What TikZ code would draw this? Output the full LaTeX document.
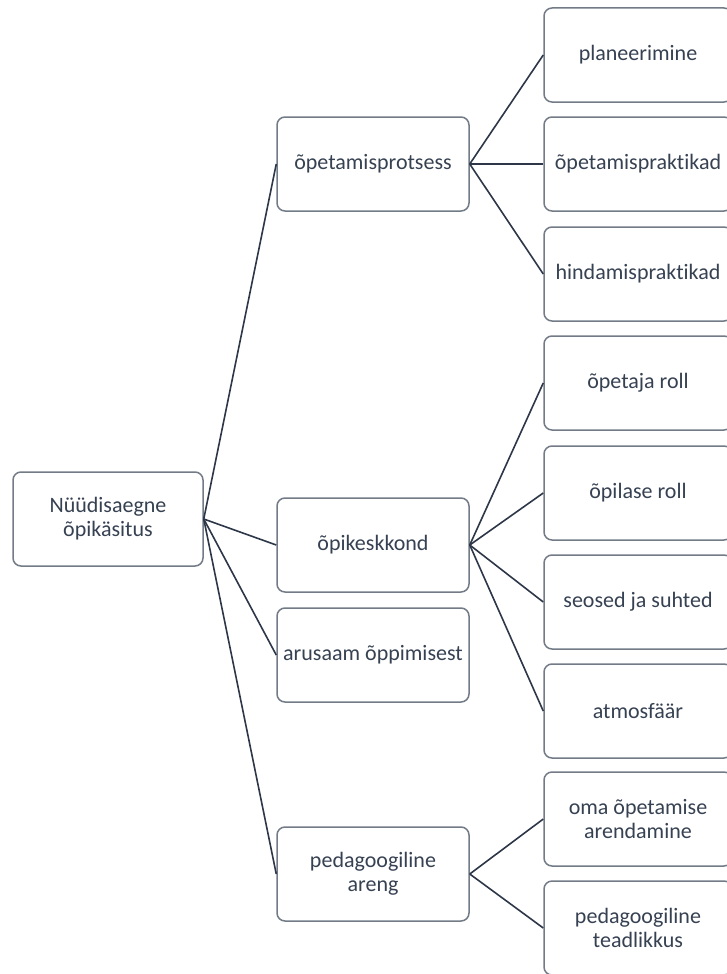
\documentclass[tikz,border=0pt]{standalone}
\usepackage{fontspec}
\setmainfont[Ligatures=NoCommon]{Carlito}
\definecolor{boxc}{HTML}{737B87}
\definecolor{linec}{HTML}{2D3748}
\definecolor{txtc}{HTML}{364152}
\begin{document}
\begin{tikzpicture}[x=1pt,y=-1pt,
  box/.style={draw=boxc, line width=1.5pt, rounded corners=8pt, fill=white,
    minimum height=94pt, align=center, text=txtc, inner sep=0pt,
    font=\fontsize{22}{24}\selectfont},
  rootbox/.style={box, minimum width=190pt},
  midbox/.style={box, minimum width=192pt},
  leafbox/.style={box, minimum width=188pt},
  conn/.style={draw=linec, line width=1.6pt}]
\useasboundingbox (0,0) rectangle (726,974);
\node[rootbox] (root) at (108,519) {Nüüdisaegne\\õpikäsitus};
\node[midbox] (p1) at (373,164) {õpetamisprotsess};
\node[midbox] (p2) at (373,545) {õpikeskkond};
\node[midbox] (p3) at (373,655) {arusaam õppimisest};
\node[midbox] (p4) at (373,874) {pedagoogiline\\areng};
\node[leafbox] (c1) at (638,55) {planeerimine};
\node[leafbox] (c2) at (638,164) {õpetamispraktikad};
\node[leafbox] (c3) at (638,274) {hindamispraktikad};
\node[leafbox] (c4) at (638,383) {õpetaja roll};
\node[leafbox] (c5) at (638,493) {õpilase roll};
\node[leafbox] (c6) at (638,602) {seosed ja suhted};
\node[leafbox] (c7) at (638,711) {atmosfäär};
\node[leafbox] (c8) at (638,819) {oma õpetamise\\arendamine};
\node[leafbox] (c9) at (638,928) {pedagoogiline\\teadlikkus};
\foreach \t in {p1,p2,p3,p4} \draw[conn] (root.east) -- (\t.west);
\foreach \t in {c1,c2,c3} \draw[conn] (p1.east) -- (\t.west);
\foreach \t in {c4,c5,c6,c7} \draw[conn] (p2.east) -- (\t.west);
\foreach \t in {c8,c9} \draw[conn] (p4.east) -- (\t.west);
\end{tikzpicture}
\end{document}
